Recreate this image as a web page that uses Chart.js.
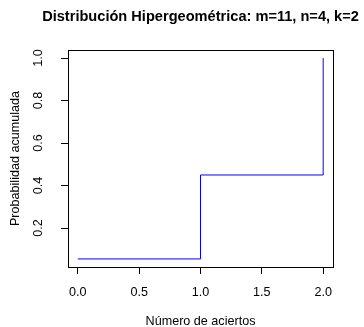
<!DOCTYPE html>
<html lang="es">
<head>
  <meta charset="UTF-8">
  <title>Distribución Hipergeométrica</title>
  <script src="https://cdn.jsdelivr.net/npm/chart.js"></script>
  <style>
    body { margin: 0; background-color: white; }
    #wrap { width: 364px; height: 327px; }
  </style>
</head>
<body>
<div id="wrap"><canvas id="cdf-chart" width="364" height="327"></canvas></div>

<script>
// data
const aciertos = [0, 1, 2];
const probAcum = [0.055, 0.45, 1.0];
const xTicks = [0, 0.5, 1, 1.5, 2];
const yTicks = [0.2, 0.4, 0.6, 0.8, 1.0];
const xTickLabels = ['0.0', '0.5', '1.0', '1.5', '2.0'];
const yTickLabels = ['0.2', '0.4', '0.6', '0.8', '1.0'];

const titleText = 'Distribución Hipergeométrica: m=11, n=4, k=2';
const xTitle = 'Número de aciertos';
const yTitle = 'Probabilidad acumulada';
const font = '"Liberation Sans", Arial, sans-serif';

// R-like text and frame
const rStyle = {
  id: 'rStyle',
  afterDraw(chart) {
    const { ctx, chartArea: a, scales: { x, y } } = chart;
    ctx.save();
    ctx.strokeStyle = '#000';
    ctx.lineWidth = 1;
    ctx.strokeRect(Math.round(a.left) + 0.5, Math.round(a.top) + 0.5,
                   Math.round(a.right - a.left), Math.round(a.bottom - a.top));

    ctx.fillStyle = '#000';
    ctx.font = '12.6px ' + font;
    ctx.textAlign = 'center';
    ctx.textBaseline = 'middle';
    xTicks.forEach((v, i) => ctx.fillText(xTickLabels[i], x.getPixelForValue(v), 293));
    yTicks.forEach((v, i) => {
      ctx.save();
      ctx.translate(39, y.getPixelForValue(v));
      ctx.rotate(-Math.PI / 2);
      ctx.fillText(yTickLabels[i], 0, 0);
      ctx.restore();
    });

    ctx.fillText(xTitle, (a.left + a.right) / 2, 322);
    ctx.save();
    ctx.translate(16, (a.top + a.bottom) / 2);
    ctx.rotate(-Math.PI / 2);
    ctx.fillText(yTitle, 0, 0);
    ctx.restore();

    ctx.font = 'bold 14.6px ' + font;
    ctx.fillText(titleText, (a.left + a.right) / 2, 17);
    ctx.restore();
  }
};

new Chart(document.getElementById('cdf-chart').getContext('2d'), {
  type: 'scatter',
  data: {
    datasets: [{
      data: aciertos.map((v, i) => ({ x: v, y: probAcum[i] })),
      showLine: true,
      stepped: true,
      borderColor: '#0000ff',
      borderWidth: 1,
      pointRadius: 0,
      fill: false
    }]
  },
  options: {
    responsive: false,
    animation: false,
    layout: { padding: { top: 50, right: 31, left: 0, bottom: 0 } },
    plugins: { legend: { display: false }, tooltip: { enabled: false }, title: { display: false } },
    scales: {
      x: {
        type: 'linear', min: -0.08, max: 2.08,
        afterBuildTicks: s => { s.ticks = xTicks.map(v => ({ value: v })); },
        afterFit: s => { s.height = 60; },
        ticks: { display: false },
        border: { display: false },
        grid: { drawOnChartArea: false, drawTicks: true, tickLength: 7, color: '#000' }
      },
      y: {
        type: 'linear', min: 0.017, max: 1.038,
        afterBuildTicks: s => { s.ticks = yTicks.map(v => ({ value: v })); },
        afterFit: s => { s.width = 68; },
        ticks: { display: false },
        border: { display: false },
        grid: { drawOnChartArea: false, drawTicks: true, tickLength: 7, color: '#000' }
      }
    }
  },
  plugins: [rStyle]
});
</script>
</body>
</html>
